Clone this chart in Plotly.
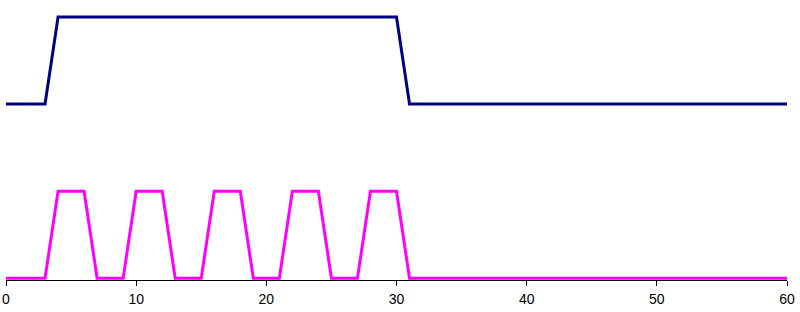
import plotly.graph_objects as go

# Data
navy_x = [0, 3, 4, 30, 31, 60]
navy_y = [2, 2, 3, 3, 2, 2]

pulse_x = [0, 3, 4, 6, 7, 9, 10, 12, 13, 15, 16, 18, 19, 21, 22, 24, 25, 27, 28, 30, 31, 60]
pulse_y = [0, 0, 1, 1, 0, 0, 1, 1, 0, 0, 1, 1, 0, 0, 1, 1, 0, 0, 1, 1, 0, 0]

x_ticks = [0, 10, 20, 30, 40, 50, 60]

fig = go.Figure()
fig.add_trace(go.Scatter(x=navy_x, y=navy_y, mode="lines",
                         line=dict(color="#000080", width=3), hoverinfo="skip"))
fig.add_trace(go.Scatter(x=pulse_x, y=pulse_y, mode="lines",
                         line=dict(color="#FF00FF", width=3), hoverinfo="skip"))

fig.update_layout(
    width=800, height=312,
    margin=dict(l=6, r=13, t=10, b=32, autoexpand=False),
    paper_bgcolor="white", plot_bgcolor="white",
    showlegend=False,
    font=dict(family="Arial, Liberation Sans, sans-serif", size=14, color="black"),
)
fig.update_xaxes(range=[0, 60], tickvals=x_ticks, ticktext=[str(v) for v in x_ticks],
                 automargin=False, ticklabelstandoff=1,
                 tickfont=dict(family="Arial, Liberation Sans, sans-serif", size=14, color="black"),
                 showgrid=False, zeroline=False, showline=True, linecolor="black",
                 linewidth=1, ticks="outside", ticklen=5, tickcolor="black", tickwidth=1)
fig.update_yaxes(range=[-0.02, 3.08], visible=False, showgrid=False, zeroline=False,
                 automargin=False)

fig.write_html("out.html")
